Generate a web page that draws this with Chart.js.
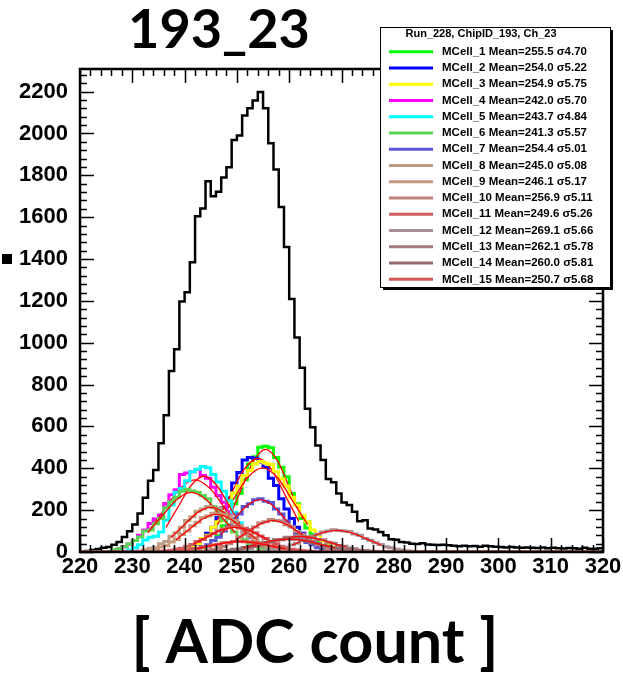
<!DOCTYPE html>
<html>
<head>
<meta charset="utf-8">
<script src="https://cdn.jsdelivr.net/npm/chart.js@4/dist/chart.umd.min.js"></script>
<style>
  body { margin: 0; background: #fff; }
  canvas { display: block; }
</style>
</head>
<body>
<canvas id="adcChart" width="623" height="675"></canvas>
<script>
// axis ranges
const xMin = 220, xMax = 320, yMax = 2308;
const xTickStep = 10, yTickStep = 200;

// summed histogram (black), one count per ADC bin from 220 to 319
const totalCounts = [
  3, 5, 9, 14, 20, 24, 35, 48, 72, 99,
  131, 184, 259, 340, 392, 520, 653, 865, 969, 1197,
  1241, 1385, 1604, 1641, 1772, 1700, 1721, 1790, 1838, 1969,
  1990, 2086, 2120, 2158, 2198, 2121, 1953, 1828, 1649, 1457,
  1209, 1025, 880, 685, 596, 509, 440, 349, 333, 280,
  237, 224, 192, 147, 152, 112, 107, 96, 80, 61,
  58, 48, 45, 40, 38, 42, 36, 35, 33, 35,
  32, 30, 28, 30, 27, 29, 25, 30, 28, 25,
  24, 22, 24, 22, 20, 22, 20, 19, 22, 18,
  20, 18, 17, 19, 18, 16, 20, 16, 15, 18
];

// per-memory-cell histograms
const cellNames = ['MCell_1', 'MCell_2', 'MCell_3', 'MCell_4', 'MCell_5', 'MCell_6', 'MCell_7', 'MCell_8',
  'MCell_9', 'MCell_10', 'MCell_11', 'MCell_12', 'MCell_13', 'MCell_14', 'MCell_15'];
const cellMean = [255.5, 254.0, 254.9, 242.0, 243.7, 241.3, 254.4, 245.0, 246.1, 256.9, 249.6, 269.1, 262.1, 260.0, 250.7];
const cellSigma = [4.70, 5.22, 5.75, 5.70, 4.84, 5.57, 5.01, 5.08, 5.17, 5.11, 5.26, 5.66, 5.78, 5.81, 5.68];
const cellColors = ['#00ff00', '#0000ff', '#ffff00', '#ff00ff', '#00ffff', '#59d454', '#5954d9', '#bd9e82',
  '#c7997d', '#bf8278', '#cf5e61', '#ab8f94', '#a67a7a', '#946b70', '#d45954'];
// first filled bin of each cell histogram
const cellStart = [241, 239, 238, 226, 229, 226, 240, 231, 232, 243, 235, 254, 247, 245, 236];
const cellCounts = [
  [5, 10, 22, 30, 55, 78, 125, 160, 230, 280, 345, 420, 455, 500, 505, 498, 452, 405, 360, 280, 230, 160, 115, 85, 50, 30, 22, 10, 6, 3],
  [8, 15, 28, 38, 62, 90, 118, 165, 212, 258, 330, 380, 440, 452, 448, 430, 405, 352, 318, 255, 205, 160, 118, 90, 58, 40, 25, 15, 9, 5, 2],
  [6, 14, 17, 30, 40, 65, 80, 118, 145, 190, 228, 282, 315, 365, 390, 422, 432, 425, 418, 385, 350, 315, 262, 225, 175, 145, 105, 82, 52, 40, 24, 18, 10, 6],
  [8, 14, 25, 38, 55, 80, 105, 136, 158, 177, 232, 273, 298, 370, 378, 384, 394, 365, 352, 310, 270, 238, 195, 160, 125, 92, 68, 48, 32, 22, 14, 9],
  [10, 20, 35, 57, 70, 75, 96, 153, 225, 285, 304, 340, 384, 395, 408, 402, 370, 335, 290, 245, 190, 140, 100, 72, 48, 30, 18, 10, 6, 3],
  [10, 15, 25, 38, 55, 72, 100, 105, 135, 160, 210, 240, 262, 290, 300, 292, 285, 270, 255, 218, 195, 150, 130, 95, 72, 58, 36, 28, 16, 10, 6],
  [4, 10, 14, 25, 35, 55, 70, 100, 122, 160, 182, 218, 230, 250, 255, 242, 236, 205, 182, 148, 122, 90, 70, 45, 35, 20, 15, 8, 5],
  [5, 11, 18, 22, 40, 50, 75, 92, 118, 150, 168, 195, 205, 218, 212, 210, 188, 172, 140, 125, 92, 75, 50, 40, 24, 18, 10, 6],
  [5, 10, 14, 24, 30, 48, 60, 84, 100, 126, 142, 165, 172, 185, 180, 178, 162, 150, 125, 110, 82, 68, 47, 36, 22, 17, 9, 6],
  [4, 9, 12, 20, 26, 40, 50, 72, 85, 108, 120, 138, 144, 155, 150, 148, 130, 120, 98, 85, 64, 52, 35, 27, 17, 12, 7, 4],
  [3, 6, 8, 14, 18, 28, 36, 50, 60, 76, 88, 102, 110, 118, 122, 115, 113, 100, 92, 76, 65, 50, 40, 28, 21, 13, 9, 5, 3],
  [4, 5, 10, 12, 19, 24, 35, 42, 55, 62, 76, 85, 96, 100, 106, 103, 100, 98, 86, 80, 65, 56, 44, 36, 25, 20, 13, 10, 6, 4],
  [3, 4, 8, 9, 15, 18, 26, 30, 40, 46, 56, 60, 70, 70, 77, 74, 72, 70, 60, 58, 46, 42, 31, 27, 19, 16, 10, 7, 5, 3],
  [2, 5, 6, 8, 13, 15, 22, 26, 34, 38, 47, 51, 58, 59, 63, 61, 62, 55, 52, 44, 41, 32, 28, 20, 17, 11, 9, 5, 4, 2],
  [2, 3, 5, 8, 9, 14, 17, 23, 27, 34, 37, 44, 45, 50, 51, 49, 48, 45, 39, 36, 29, 25, 19, 16, 10, 8, 6, 4, 2]
];

// red gaussian fit curves
const fitX = [
  [248.45, 250.8, 253.15, 255.5, 257.85, 260.2, 262.55],
  [246.17, 248.78, 251.39, 254.0, 256.61, 259.22, 261.83],
  [246.28, 249.15, 252.03, 254.9, 257.78, 260.65, 263.53],
  [233.45, 236.3, 239.15, 242.0, 244.85, 247.7, 250.55],
  [236.44, 238.86, 241.28, 243.7, 246.12, 248.54, 250.96],
  [232.95, 235.73, 238.52, 241.3, 244.09, 246.87, 249.66],
  [246.89, 249.39, 251.9, 254.4, 256.91, 259.41, 261.92],
  [237.38, 239.92, 242.46, 245.0, 247.54, 250.08, 252.62],
  [238.35, 240.93, 243.52, 246.1, 248.69, 251.27, 253.86],
  [249.24, 251.79, 254.35, 256.9, 259.46, 262.01, 264.57],
  [241.71, 244.34, 246.97, 249.6, 252.23, 254.86, 257.49],
  [260.61, 263.44, 266.27, 269.1, 271.93, 274.76, 277.59],
  [253.43, 256.32, 259.21, 262.1, 264.99, 267.88, 270.77],
  [251.29, 254.19, 257.1, 260.0, 262.91, 265.81, 268.72],
  [242.18, 245.02, 247.86, 250.7, 253.54, 256.38, 259.22]
];
const fitY = [
  [159, 297, 432, 490, 432, 297, 159],
  [146, 272, 395, 448, 395, 272, 146],
  [131, 244, 355, 402, 355, 244, 131],
  [112, 209, 304, 345, 304, 209, 112],
  [118, 220, 319, 362, 319, 220, 118],
  [93, 173, 251, 285, 251, 173, 93],
  [81, 152, 221, 250, 221, 152, 81],
  [69, 129, 188, 213, 188, 129, 69],
  [59, 109, 159, 180, 159, 109, 59],
  [49, 91, 132, 150, 132, 91, 49],
  [38, 72, 104, 118, 104, 72, 38],
  [33, 63, 91, 103, 91, 63, 33],
  [24, 45, 65, 74, 65, 45, 24],
  [20, 37, 54, 61, 54, 37, 20],
  [16, 30, 44, 50, 44, 30, 16]
];

const titleText = '193_23';
const xTitleText = '[ ADC count ]';
const legendHeader = 'Run_228, ChipID_193, Ch_23';

// bins -> step points over the full axis range (zero outside the filled bins)
function histPoints(start, counts) {
  const pts = [];
  for (let b = xMin; b < xMax; b++) {
    const i = b - start;
    pts.push({ x: b, y: (i >= 0 && i < counts.length) ? counts[i] : 0 });
  }
  pts.push({ x: xMax, y: pts[pts.length - 1].y });
  return pts;
}

// drawing order: black first, then each cell with its fit on top
const drawList = [];
drawList.push({
  data: histPoints(xMin, totalCounts),
  borderColor: '#000000', borderWidth: 2.5, stepped: 'before'
});
for (let i = 0; i < cellNames.length; i++) {
  drawList.push({
    label: cellNames[i],
    data: histPoints(cellStart[i], cellCounts[i]),
    borderColor: cellColors[i], borderWidth: 3, stepped: 'before'
  });
  drawList.push({
    data: fitX[i].map((x, k) => ({ x: x, y: fitY[i][k] })),
    borderColor: '#ff0000', borderWidth: 1.3, cubicInterpolationMode: 'monotone'
  });
}
const datasets = drawList.map((d, idx) => Object.assign({
  pointRadius: 0, fill: false, order: drawList.length - idx
}, d));

// frame and inside ticks on all four sides, ROOT style
const framePlugin = {
  id: 'frame',
  afterDatasetsDraw(chart) {
    const ctx = chart.ctx;
    const { left, right, top, bottom } = chart.chartArea;
    const xs = chart.scales.x, ys = chart.scales.y;
    ctx.save();
    ctx.strokeStyle = '#000';
    ctx.lineWidth = 1.5;
    ctx.beginPath();
    for (let v = xMin; v <= xMax; v += 2) {
      const px = Math.round(xs.getPixelForValue(v)) + 0.5;
      const len = (v % xTickStep === 0) ? 14 : 7;
      ctx.moveTo(px, bottom); ctx.lineTo(px, bottom - len);
      ctx.moveTo(px, top); ctx.lineTo(px, top + len);
    }
    for (let v = 0; v <= yMax; v += 40) {
      const py = Math.round(ys.getPixelForValue(v)) + 0.5;
      const len = (v % yTickStep === 0) ? 14 : 7;
      ctx.moveTo(left, py); ctx.lineTo(left + len, py);
      ctx.moveTo(right, py); ctx.lineTo(right - len, py);
    }
    ctx.stroke();
    ctx.lineWidth = 2.5;
    ctx.strokeRect(left, top, right - left, bottom - top);
    ctx.restore();
  }
};

// titles, the lone y-title glyph and the fit legend box
const decorPlugin = {
  id: 'decor',
  afterDraw(chart) {
    const ctx = chart.ctx;
    ctx.save();
    ctx.fillStyle = '#000';
    ctx.textAlign = 'center';
    ctx.textBaseline = 'alphabetic';
    ctx.font = 'bold 54px Lato';
    ctx.fillText(titleText, 219, 48);
    ctx.font = 'bold 61px Lato';
    ctx.fillText(xTitleText, 315, 663);
    ctx.fillRect(2, 254, 10, 10);

    // legend
    const bx = 380, by = 27, bw = 230, bh = 260;
    ctx.fillRect(bx + 3, by + 3, bw, bh);
    ctx.fillStyle = '#fff';
    ctx.fillRect(bx, by, bw, bh);
    ctx.strokeStyle = '#000';
    ctx.lineWidth = 1;
    ctx.strokeRect(bx + 0.5, by + 0.5, bw, bh);
    ctx.fillStyle = '#000';
    ctx.font = 'bold 11px "Liberation Sans"';
    ctx.textBaseline = 'middle';
    ctx.fillText(legendHeader, 481, 34);
    ctx.textAlign = 'left';
    ctx.font = 'bold 11.5px "Liberation Sans"';
    for (let i = 0; i < cellNames.length; i++) {
      const y = 51.7 + i * 16.26;
      ctx.strokeStyle = cellColors[i];
      ctx.lineWidth = 3;
      ctx.beginPath();
      ctx.moveTo(389, y); ctx.lineTo(433, y);
      ctx.stroke();
      ctx.fillText(cellNames[i] + ' Mean=' + cellMean[i].toFixed(1) + ' \u03c3' + cellSigma[i].toFixed(2), 442, y);
    }
    ctx.restore();
  }
};

const tickFont = { family: '"Liberation Sans", Arial, sans-serif', size: 22, weight: 'bold' };

new Chart(document.getElementById('adcChart'), {
  type: 'line',
  data: { datasets: datasets },
  options: {
    responsive: false,
    animation: false,
    layout: { padding: { top: 69, right: 20, left: 0, bottom: 0 } },
    plugins: { legend: { display: false }, tooltip: { enabled: false }, title: { display: false } },
    scales: {
      x: {
        type: 'linear', min: xMin, max: xMax,
        grid: { display: false }, border: { display: false },
        ticks: { stepSize: xTickStep, includeBounds: false, color: '#000', font: tickFont, padding: -6, maxRotation: 0,
          callback: (v) => String(v) },
        afterFit(scale) { scale.height = 123; }
      },
      y: {
        type: 'linear', min: 0, max: yMax,
        grid: { display: false }, border: { display: false },
        ticks: { stepSize: yTickStep, includeBounds: false, color: '#000', font: tickFont, padding: 4,
          callback: (v) => String(v) },
        afterFit(scale) { scale.width = 80; }
      }
    }
  },
  plugins: [framePlugin, decorPlugin]
});
</script>
</body>
</html>
